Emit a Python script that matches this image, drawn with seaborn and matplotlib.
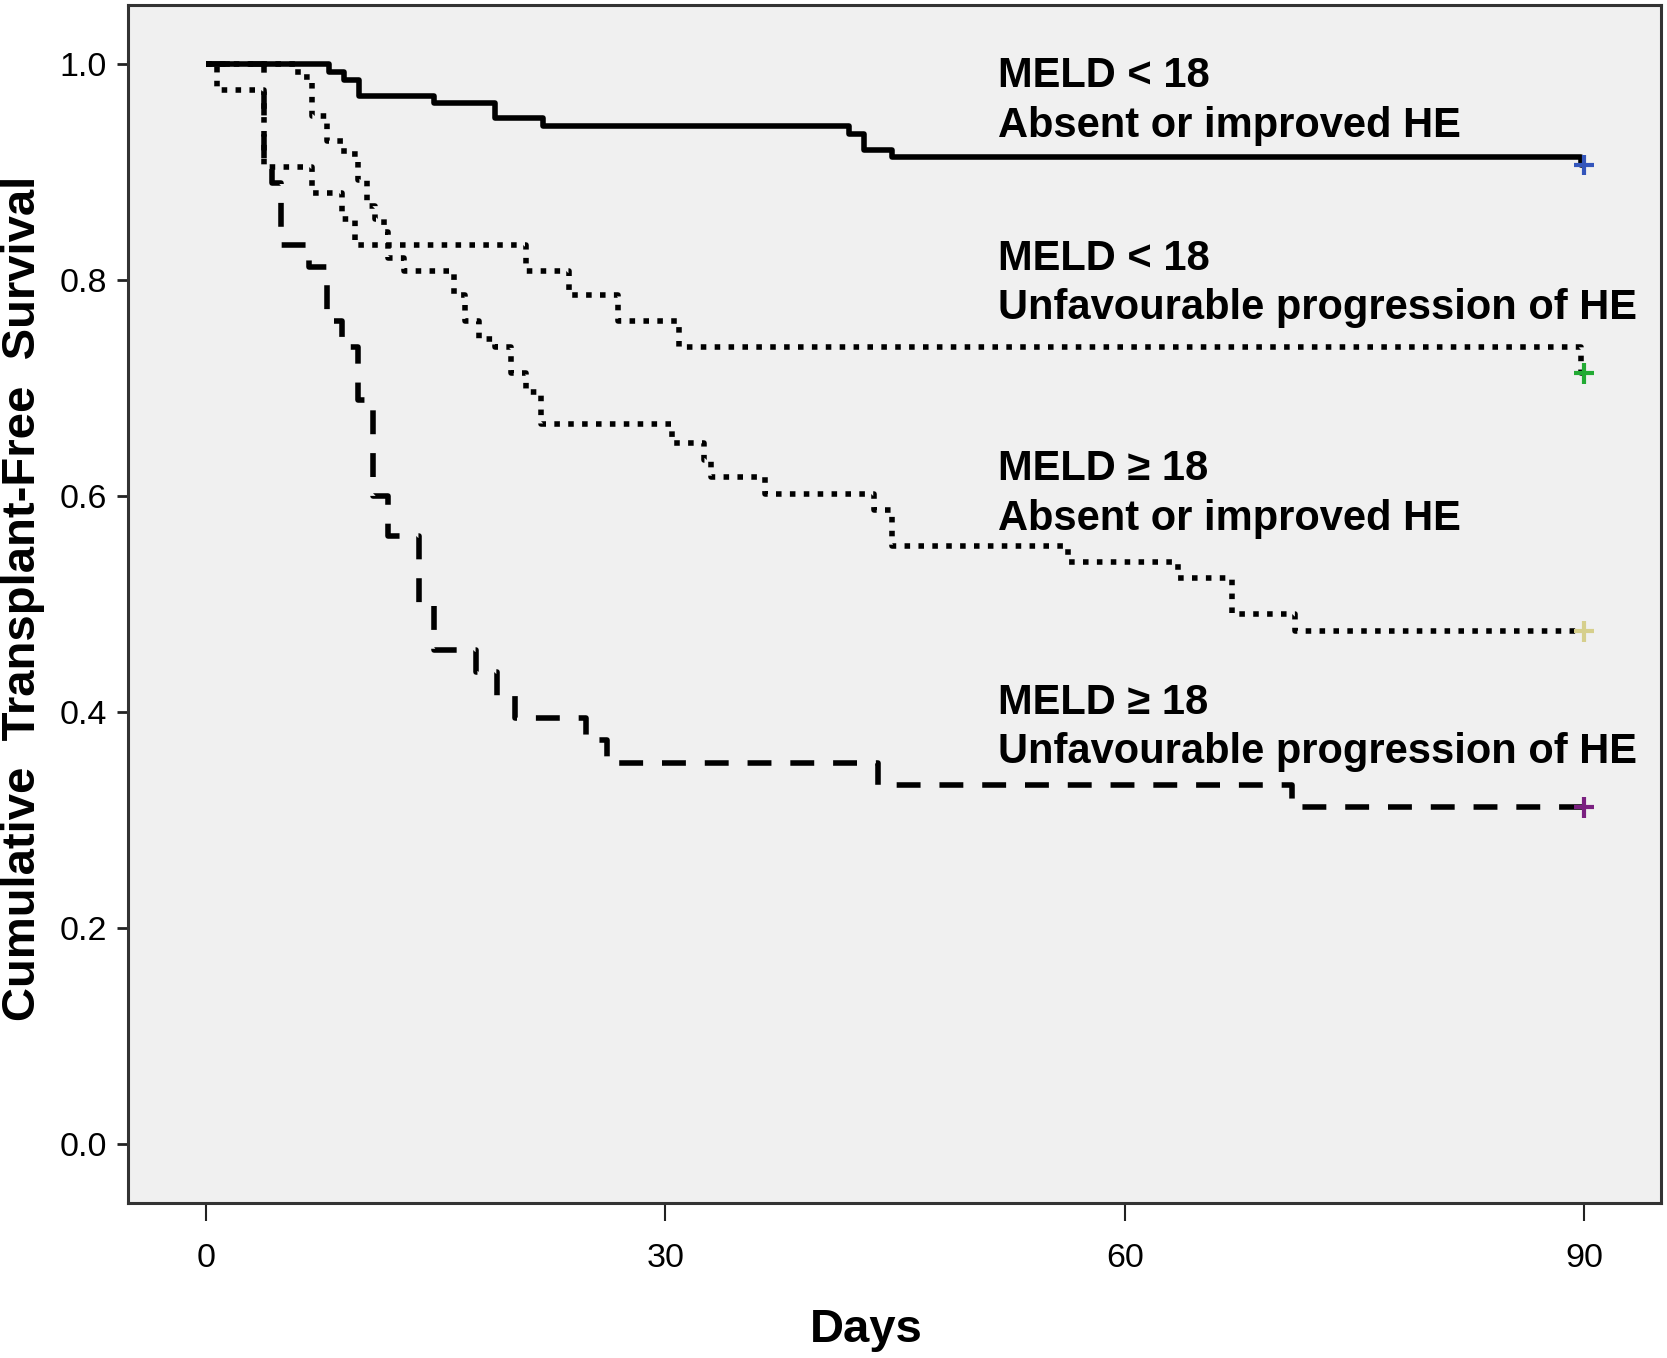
import numpy as np
import pandas as pd
import matplotlib
matplotlib.use("Agg")
import matplotlib.pyplot as plt
import seaborn as sns

# Kaplan-Meier steps: day of each drop and value after it
days_a = [0, 8.0, 9.0, 10.0, 14.9, 18.9, 22.0, 42.0, 43.0, 44.8, 89.8, 90]
surv_a = [1.0, 0.993, 0.986, 0.971, 0.964, 0.950, 0.943, 0.936, 0.921, 0.914, 0.907, 0.907]

days_b = [0, 0.7, 3.8, 6.9, 8.9, 9.7, 20.9, 23.7, 26.9, 30.9, 89.8, 90]
surv_b = [1.0, 0.976, 0.905, 0.881, 0.857, 0.833, 0.809, 0.786, 0.762, 0.738, 0.714, 0.714]

days_c = [0, 6.0, 6.9, 7.9, 9.0, 9.9, 10.5, 11.0, 11.6, 11.9, 12.9, 16.2, 16.9, 17.8,
          18.9, 19.9, 20.9, 21.9, 30.4, 32.5, 33.0, 36.5, 43.6, 44.8, 56.3, 63.5, 67.0, 71.1, 90]
surv_c = [1.0, 0.988, 0.952, 0.929, 0.917, 0.893, 0.869, 0.857, 0.845, 0.821, 0.809, 0.786,
          0.762, 0.746, 0.738, 0.714, 0.697, 0.667, 0.649, 0.634, 0.618, 0.602, 0.587, 0.554,
          0.539, 0.524, 0.491, 0.475, 0.475]

days_d = [0, 3.8, 4.3, 4.9, 6.7, 7.9, 8.9, 9.9, 10.9, 11.9, 13.9, 14.9, 17.6, 19.0, 20.2,
          24.8, 26.2, 43.9, 70.9, 90]
surv_d = [1.0, 0.905, 0.890, 0.833, 0.812, 0.762, 0.738, 0.689, 0.600, 0.563, 0.500, 0.458,
          0.437, 0.415, 0.395, 0.374, 0.353, 0.333, 0.312, 0.312]

# censored cases at day 90
cens_x = [90, 90, 90, 90]
cens_y = [0.907, 0.714, 0.475, 0.312]
cens_colors = ["#3355bb", "#22aa33", "#d6cf8c", "#7a2080"]

labels = ["MELD < 18\nAbsent or improved HE",
          "MELD < 18\nUnfavourable progression of HE",
          "MELD \u2265 18\nAbsent or improved HE",
          "MELD \u2265 18\nUnfavourable progression of HE"]
label_y = [0.966, 0.797, 0.602, 0.386]
label_x = 51.7

x_ticks = [0, 30, 60, 90]
y_ticks = [0.0, 0.2, 0.4, 0.6, 0.8, 1.0]

sns.set_style("white")
plt.rcParams["font.family"] = ["Liberation Sans", "DejaVu Sans"]
plt.rcParams["text.color"] = "black"
plt.rcParams["xtick.color"] = "black"
plt.rcParams["ytick.color"] = "black"

fig = plt.figure(figsize=(16.67, 13.58), dpi=100)
ax = fig.add_axes([0.0768, 0.1141, 0.9194, 0.8822])
ax.set_facecolor("#f0f0f0")

lw = 4
styles = ["-", (0, (1, 1.5)), (0, (1, 1.5)), (0, (4.3, 3.4))]
curves = [(days_a, surv_a), (days_b, surv_b), (days_c, surv_c), (days_d, surv_d)]
for (dx, sy), ls in zip(curves, styles):
    sns.lineplot(x=dx, y=sy, ax=ax, color="black", linewidth=lw, linestyle=ls,
                 drawstyle="steps-post", estimator=None, sort=False,
                 dash_capstyle="butt", solid_capstyle="butt")

cens = pd.DataFrame({"x": cens_x, "y": cens_y, "g": list(range(4))})
sns.scatterplot(data=cens, x="x", y="y", hue="g", palette=cens_colors, marker="+",
                s=220, linewidth=3, ax=ax, legend=False, zorder=5)

for txt, ty in zip(labels, label_y):
    ax.text(label_x, ty, txt, fontsize=30, fontweight="bold", ha="left", va="center",
            linespacing=1.3, color="black")

ax.set_xlim(-5.1, 95.0)
ax.set_ylim(-0.0546, 1.055)
ax.set_xticks(x_ticks)
ax.set_xticklabels([str(t) for t in x_ticks])
ax.set_yticks(y_ticks)
ax.set_yticklabels([f"{t:.1f}" for t in y_ticks])
ax.tick_params(axis="x", direction="out", length=13, width=1.5, pad=16,
               labelsize=24.5, color="#222222", labelcolor="black", bottom=True)
ax.tick_params(axis="y", direction="out", length=8, width=2, pad=7,
               labelsize=24.5, color="#222222", labelcolor="black", left=True)
for sp in ax.spines.values():
    sp.set_color("#333333")
    sp.set_linewidth(2.2)
ax.set_xlabel("")
ax.set_ylabel("")

fig.text(0.0135, 0.5596, "Cumulative  Transplant-Free  Survival", rotation=90,
         fontsize=34, fontweight="bold", ha="center", va="center", color="black")
fig.text(0.5195, 0.0206, "Days", fontsize=34, fontweight="bold", ha="center", va="center",
         color="black")

fig.savefig("out.png", dpi=100, facecolor="white")
